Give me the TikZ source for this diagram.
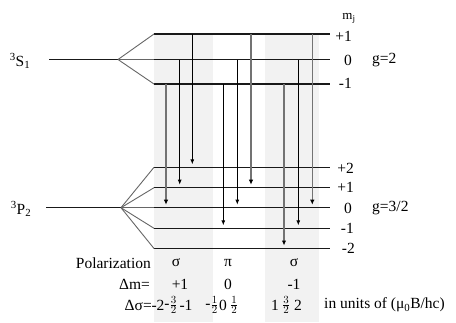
\documentclass[tikz,border=0pt]{standalone}
\usepackage{fontspec}
\setmainfont{Liberation Serif}
\usetikzlibrary{arrows.meta}
\begin{document}
\begin{tikzpicture}[x=1pt,y=-1pt,
  lbl/.style={font=\fontsize{15.5}{17}\selectfont, inner sep=0pt},
  lvl/.style={line width=1.5pt, black!90},
  splitline/.style={line width=0.9pt, black!60},
  arb/.style={line width=0.9pt, black, -{Latex[length=5pt,width=4pt]}},
  arg/.style={line width=1.6pt, black!55, -{Latex[length=5pt,width=4.5pt,color=black]}},
  shadecol/.style={fill=black!5}]
\useasboundingbox (0,0) rectangle (456,322);
\fill[shadecol] (154,34) rectangle (213,322);
\fill[shadecol] (265,34) rectangle (319,322);
% levels
\foreach \n/\y in {uA/34,uB/59.5,uC/84,lA/167.3,lB/187.7,lC/207.7,lD/228.3,lE/248.5}{
  \coordinate (\n0) at (154,\y);
  \coordinate (\n1) at (330,\y);
  \draw[lvl] (\n0) -- (\n1);
}
% splitting
\coordinate (sL) at (49,59.5);
\coordinate (sS) at (118,59.5);
\draw[lvl] (sL) -- (sS);
\foreach \n in {uA,uB,uC} \draw[splitline] (sS) -- (\n0);
\coordinate (pL) at (46,207.7);
\coordinate (pS) at (121,207.7);
\draw[lvl] (pL) -- (pS);
\foreach \n in {lA,lB,lC,lD,lE} \draw[splitline] (pS) -- (\n0);
% transitions
\foreach \x/\f/\t/\st [count=\i] in {166/uC/lC/arg,179.7/uB/lB/arb,192.3/uA/lA/arb,223.3/uC/lD/arb,237.3/uB/lC/arb,251/uA/lB/arg,284/uC/lE/arg,298.3/uB/lD/arb,312.3/uA/lC/arg}{
  \coordinate (a\i s) at (\x,0 |- \f0);
  \coordinate (a\i e) at ([yshift=3pt]\x,0 |- \t0);
  \draw[\st] (a\i s) -- (a\i e);
}
% term labels
\node[lbl] (S) at (20,61) {\textsuperscript{3}S\textsubscript{1}};
\node[lbl] (P) at (21,209) {\textsuperscript{3}P\textsubscript{2}};
% mj labels
\node[lbl, font=\fontsize{13}{15}\selectfont] (mj) at (349,18) {m\textsubscript{j}};
\node[lbl, anchor=east] (uAl) at (352,36) {+1};
\node[lbl, anchor=east] (uBl) at (352,60) {0};
\node[lbl, anchor=east] (uCl) at (352,83) {-1};
\node[lbl, anchor=west] (g1) at (372,60) {g=2};
\node[lbl, anchor=east] (lAl) at (354,168) {+2};
\node[lbl, anchor=east] (lBl) at (354,187) {+1};
\node[lbl, anchor=east] (lCl) at (352,208) {0};
\node[lbl, anchor=east] (lDl) at (354,228) {-1};
\node[lbl, anchor=east] (lEl) at (355,248) {-2};
\node[lbl, anchor=west] (g2) at (372,208) {g=3/2};
% bottom rows
\node[lbl, anchor=east] (pol) at (151,263) {Polarization};
\node[lbl] (p1) at (176,263) {σ};
\node[lbl] (p2) at (228,263) {π};
\node[lbl] (p3) at (294,263) {σ};
\node[lbl, anchor=east] (dm) at (150,284) {Δm=};
\node[lbl] (m1) at (180,284) {+1};
\node[lbl] (m2) at (228,284) {0};
\node[lbl] (m3) at (294,284) {-1};
\node[lbl, anchor=east] (ds) at (152,305) {Δσ=};
\node[lbl] (d0) at (158,305) {-2};
\node[lbl] (d1) at (171,305) {-$\frac{3}{2}$};
\node[lbl] (d2) at (186,305) {-1};
\node[lbl] (d3) at (212,305) {-$\frac{1}{2}$};
\node[lbl] (d4) at (223,305) {0};
\node[lbl] (d5) at (234,305) {$\frac{1}{2}$};
\node[lbl] (d6) at (275,305) {1};
\node[lbl] (d7) at (286,305) {$\frac{3}{2}$};
\node[lbl] (d8) at (298,305) {2};
\node[lbl, anchor=west] (units) at (324,305) {in units of (μ\textsubscript{0}B/hc)};
\end{tikzpicture}
\end{document}
